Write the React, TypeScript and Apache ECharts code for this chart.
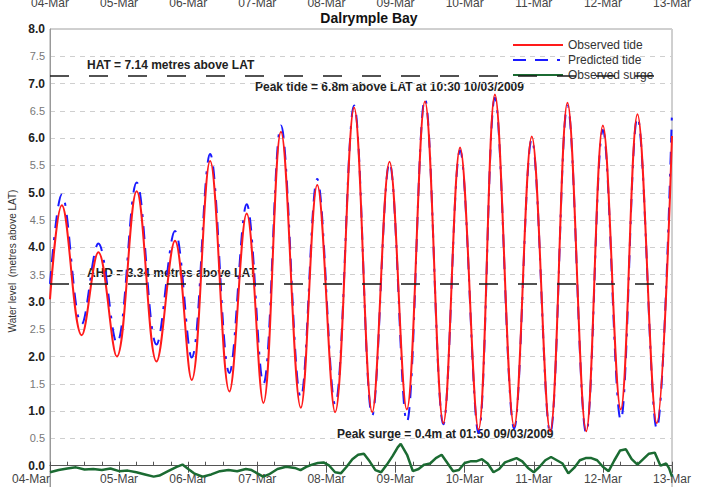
import React, { useEffect, useRef } from "react";
import * as echarts from "echarts";

// Day tick labels (x axis runs in hours from 04-Mar 00:00)
const dayLabels = [
  "04-Mar", "05-Mar", "06-Mar", "07-Mar", "08-Mar",
  "09-Mar", "10-Mar", "11-Mar", "12-Mar", "13-Mar",
];

// High / low waters of the observed tide: [hours since 04-Mar 00:00, metres above LAT]
const observedTide: [number, number][] = [
  [0, 3.05], [4.1, 4.77], [11.0, 2.39], [16.8, 3.91], [23.2, 2.0],
  [30.1, 5.03], [37.0, 1.91], [43.4, 4.12], [49.2, 1.57], [55.6, 5.58],
  [62.3, 1.36], [68.3, 4.62], [74.1, 1.15], [80.2, 6.12], [87.1, 1.06],
  [92.8, 5.14], [99.0, 0.98], [105.6, 6.56], [111.9, 0.98], [117.9, 5.57],
  [123.9, 1.03], [130.2, 6.67], [136.6, 0.78], [142.4, 5.83], [148.8, 0.66],
  [154.5, 6.8], [161.2, 0.72], [167.3, 6.03], [173.7, 0.63], [179.7, 6.65],
  [186.2, 0.63], [192.0, 6.23], [198.2, 1.03], [204.0, 6.44], [210.7, 0.78],
  [216, 6.04],
];

// High / low waters of the predicted tide
const predictedTide: [number, number][] = [
  [0, 3.33], [4.1, 4.97], [11.0, 2.59], [16.8, 4.07], [23.2, 2.25],
  [30.1, 5.19], [37.0, 2.22], [43.4, 4.3], [49.2, 1.98], [55.6, 5.71],
  [62.3, 1.7], [68.3, 4.79], [74.1, 1.5], [80.2, 6.23], [87.1, 1.25],
  [92.8, 5.25], [99.0, 1.12], [105.6, 6.6], [111.9, 0.92], [117.9, 5.55],
  [123.9, 0.8], [130.2, 6.72], [136.6, 0.76], [142.4, 5.78], [148.8, 0.6],
  [154.5, 6.74], [161.2, 0.68], [167.3, 5.98], [173.7, 0.6], [179.7, 6.6],
  [186.2, 0.6], [192.0, 6.15], [198.2, 0.84], [204.0, 6.38], [210.7, 0.68],
  [216, 6.5],
];

// Observed surge (observed minus predicted), metres
const observedSurge: [number, number][] = [
  [0, -0.12], [3, -0.08], [6, -0.05], [9, -0.03], [12, -0.07], [15, -0.06],
  [18, -0.08], [21, -0.05], [24, -0.1], [27, -0.09], [30, -0.12], [33, -0.16],
  [36, -0.2], [38, -0.18], [41, -0.1], [44, -0.02], [46, 0.02], [48, -0.06],
  [50, -0.14], [53, -0.2], [56, -0.16], [59, -0.1], [62, -0.08], [65, -0.1],
  [68, -0.06], [70, -0.08], [72, -0.14], [74, -0.2], [76, -0.16], [79, -0.06],
  [82, -0.02], [85, -0.04], [87, -0.08], [89, -0.02], [91, 0.02], [93, 0.05],
  [95, 0.06], [97, 0.0], [99, -0.12], [101, -0.14], [103, -0.02], [105, 0.12],
  [107, 0.2], [109, 0.22], [111, 0.08], [113, -0.08], [115, -0.12], [117, 0.02],
  [119, 0.18], [120.8, 0.34], [121.8, 0.4], [124, 0.2], [126, -0.1], [128, -0.06],
  [130, 0.02], [132, 0.04], [134, 0.14], [136, 0.2], [138, 0.05], [140, -0.1],
  [142, -0.08], [144, 0.05], [146, 0.08], [148, 0.08], [150, 0.12], [152, 0.04],
  [154, -0.12], [156, -0.06], [158, 0.06], [160, 0.1], [162, 0.14], [164, 0.08],
  [166, -0.04], [168, -0.12], [170, -0.02], [172, 0.1], [174, 0.16], [176, 0.1],
  [178, 0.04], [180, -0.14], [182, -0.04], [184, 0.1], [186, 0.14], [188, 0.14],
  [190, 0.1], [192, -0.02], [194, -0.1], [196, 0.1], [198, 0.28], [200, 0.3],
  [202, 0.12], [204, 0.02], [206, 0.12], [208, 0.22], [210, 0.24], [212, 0.0],
  [214, 0.04], [215, -0.05], [216, -0.2],
];

const HAT = 7.14;
const AHD = 3.34;

const Y_MIN = -0.5;
const Y_MAX = 8;

const FONT = '"Liberation Sans", Arial, sans-serif';

const GRID_TOP = 29;
const GRID_BOTTOM = -6;
const CHART_H = 487;

// Distance from the bottom of the plot rectangle up to the zero line,
// used to pull the time axis up onto y = 0.
const plotH = CHART_H - GRID_TOP - GRID_BOTTOM;
const zeroOffset = -(plotH * (0 - Y_MIN)) / (Y_MAX - Y_MIN);

const dayFormatter = (v: number) => dayLabels[Math.round(v / 24)] ?? "";

export default function App() {
  const ref = useRef<HTMLDivElement>(null);

  useEffect(() => {
    if (!ref.current) return;
    const chart = echarts.init(ref.current, undefined, { renderer: "svg" });

    const refLine = (value: number) => ({
      silent: true,
      symbol: "none",
      label: { show: false },
      lineStyle: { color: "#1a1a1a", width: 1.5, type: [19, 20] },
      data: [{ yAxis: value }],
    });

    chart.setOption({
      animation: false,
      backgroundColor: "#ffffff",
      textStyle: { fontFamily: FONT },
      grid: {
        left: 50,
        right: 39,
        top: GRID_TOP,
        bottom: GRID_BOTTOM,
        outerBoundsMode: "none",
        show: true,
        borderColor: "#a0a0a0",
        borderWidth: 1,
      },
      legend: {
        orient: "vertical",
        left: 512,
        top: 39,
        padding: 0,
        itemGap: 3,
        itemWidth: 50,
        itemHeight: 14,
        itemStyle: { color: "rgba(0,0,0,0)", borderWidth: 0, opacity: 0 },
        textStyle: { fontSize: 12, color: "#333", fontFamily: FONT },
        data: ["Observed tide", "Predicted tide", "Observed surge"],
      },
      xAxis: [
        {
          type: "value",
          position: "bottom",
          offset: zeroOffset,
          min: 0,
          max: 216,
          interval: 24,
          axisLine: { onZero: false, lineStyle: { color: "#555", width: 1 } },
          axisTick: { show: true, inside: false, length: 7, lineStyle: { color: "#555" } },
          axisLabel: {
            formatter: dayFormatter,
            margin: 7,
            fontSize: 12,
            color: "#444",
            fontFamily: FONT,
            alignMinLabel: "right",
          },
          splitLine: { show: false },
        },
        {
          type: "value",
          position: "top",
          min: 0,
          max: 216,
          interval: 24,
          axisLine: { show: false },
          axisTick: { show: false },
          axisLabel: { formatter: dayFormatter, margin: 20, fontSize: 12, color: "#444", fontFamily: FONT },
          splitLine: { show: false },
        },
        {
          type: "value",
          position: "bottom",
          offset: zeroOffset,
          min: 0,
          max: 216,
          interval: 6,
          axisLine: { show: false, onZero: false },
          axisTick: { show: true, inside: true, length: 4, lineStyle: { color: "#555" } },
          axisLabel: { show: false },
          splitLine: { show: false },
        },
      ],
      yAxis: {
        type: "value",
        min: Y_MIN,
        max: Y_MAX,
        interval: 0.5,
        name: "Water level  (metres above LAT)",
        nameLocation: "middle",
        nameGap: 33,
        nameTextStyle: { fontSize: 10, color: "#333", fontFamily: FONT },
        axisLine: { show: true, onZero: false, lineStyle: { color: "#999" } },
        axisTick: { show: false },
        axisLabel: {
          margin: 5,
          formatter: (v: number) => {
            if (v < 0) return "";
            const s = v.toFixed(1);
            return Number.isInteger(v) ? `{major|${s}}` : `{minor|${s}}`;
          },
          rich: {
            major: { fontSize: 12, fontWeight: "bold", color: "#222", fontFamily: FONT },
            minor: { fontSize: 11, color: "#777", fontFamily: FONT },
          },
        },
        splitLine: { show: true, lineStyle: { color: "#cfcfcf", type: [5, 5], width: 1 } },
      },
      graphic: [
        {
          type: "text",
          x: 369,
          y: 18,
          style: {
            text: "Dalrymple Bay",
            font: `bold 14px ${FONT}`,
            fill: "#111",
            align: "center",
            verticalAlign: "middle",
          },
        },
        {
          type: "text",
          x: 87,
          y: 65,
          style: { text: "HAT = 7.14 metres above LAT", font: `bold 12px ${FONT}`, fill: "#222", verticalAlign: "middle" },
        },
        {
          type: "text",
          x: 255,
          y: 87,
          style: {
            text: "Peak tide = 6.8m above LAT at 10:30 10/03/2009",
            font: `bold 12px ${FONT}`,
            fill: "#222",
            verticalAlign: "middle",
          },
        },
        {
          type: "text",
          x: 87,
          y: 273,
          style: { text: "AHD = 3.34 metres above LAT", font: `bold 12px ${FONT}`, fill: "#222", verticalAlign: "middle" },
        },
        {
          type: "text",
          x: 337,
          y: 434,
          style: {
            text: "Peak surge = 0.4m at 01:50 09/03/2009",
            font: `bold 12px ${FONT}`,
            fill: "#222",
            verticalAlign: "middle",
          },
        },
      ],
      series: [
        {
          name: "Observed tide",
          type: "line",
          data: observedTide,
          smooth: 0.38,
          symbol: "none",
          lineStyle: { color: "#ff1a1a", width: 2 },
          itemStyle: { color: "#ff1a1a" },
          markLine: refLine(HAT),
          z: 4,
        },
        {
          name: "Predicted tide",
          type: "line",
          data: predictedTide,
          smooth: 0.38,
          symbol: "none",
          lineStyle: { color: "#1a1aff", width: 2, type: [13, 9, 13, 9, 3, 9] },
          itemStyle: { color: "#1a1aff" },
          markLine: refLine(AHD),
          z: 3,
        },
        {
          name: "Observed surge",
          type: "line",
          data: observedSurge,
          symbol: "none",
          lineStyle: { color: "#1b6b32", width: 2.5 },
          itemStyle: { color: "#1b6b32" },
          z: 5,
        },
      ],
    });

    return () => chart.dispose();
  }, []);

  return (
    <div
      ref={ref}
      style={{ position: "fixed", left: 0, top: 0, width: 711, height: CHART_H, background: "#fff" }}
    />
  );
}
